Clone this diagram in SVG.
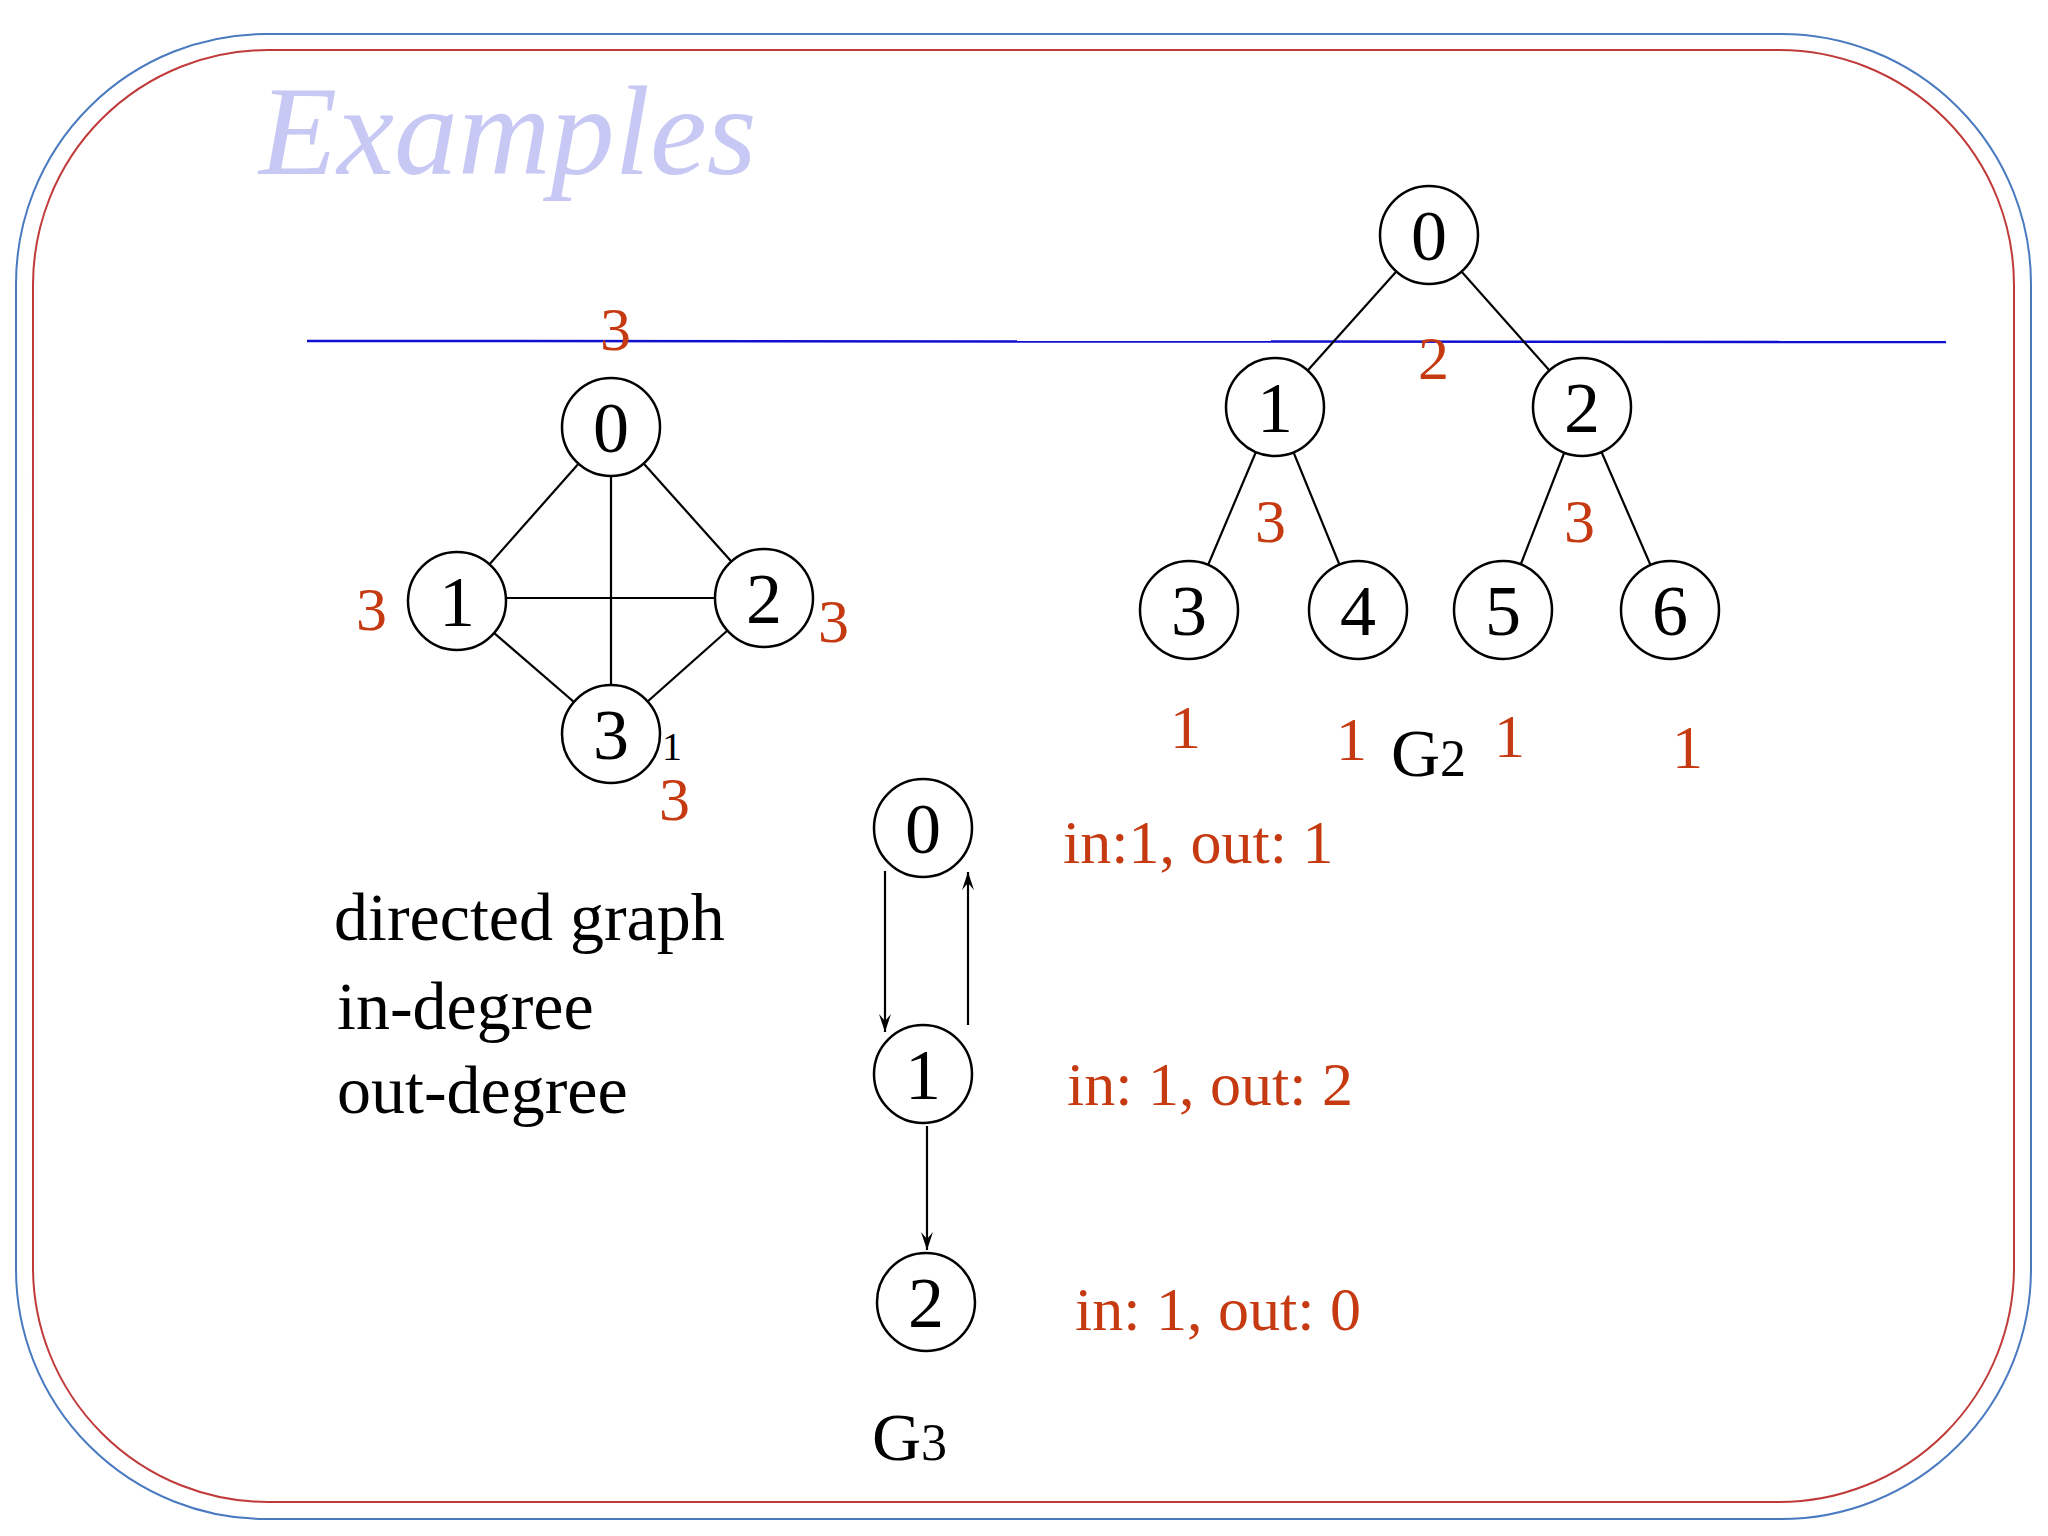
<svg xmlns="http://www.w3.org/2000/svg" width="2048" height="1536" viewBox="0 0 2048 1536">
<defs>
<marker id="ah" markerWidth="18" markerHeight="12" refX="18" refY="6" orient="auto" markerUnits="userSpaceOnUse" viewBox="0 0 18 12"><path d="M0,0 L18,6 L0,12 L7,6 Z" fill="#000"/></marker>
</defs>
<style>
.n{fill:#fff;stroke:#000;stroke-width:2.5}
.d{font-family:"Liberation Serif",serif;font-size:72px;text-anchor:middle;fill:#000}
.r{font-family:"Liberation Serif",serif;font-size:62px;fill:#c63a12}
.t{font-family:"Liberation Serif",serif;font-size:68px;fill:#000}
.e{stroke:#000;stroke-width:2.2;fill:none}
</style>
<rect width="2048" height="1536" fill="#fff"/>
<rect x="16" y="34" width="2015" height="1485" rx="250" fill="none" stroke="#4a7ac0" stroke-width="2"/>
<rect x="33" y="50" width="1981" height="1452" rx="235" fill="none" stroke="#c03a3a" stroke-width="2"/>
<text x="259" y="174" font-family="Liberation Serif,serif" font-style="italic" font-size="128" fill="#c8c8f5">Examples</text>
<line x1="307" y1="341" x2="1946" y2="342" stroke="#1010d0" stroke-width="2.5"/>
<g id="connectors">
<line class="e" x1="611" y1="427" x2="457" y2="601"/>
<line class="e" x1="611" y1="427" x2="764" y2="598"/>
<line class="e" x1="611" y1="427" x2="611" y2="734"/>
<line class="e" x1="457" y1="598" x2="764" y2="598"/>
<line class="e" x1="457" y1="601" x2="611" y2="734"/>
<line class="e" x1="764" y1="598" x2="611" y2="734"/>
<line class="e" x1="1429" y1="235" x2="1275" y2="407"/>
<line class="e" x1="1429" y1="235" x2="1582" y2="407"/>
<line class="e" x1="1275" y1="407" x2="1189" y2="610"/>
<line class="e" x1="1275" y1="407" x2="1358" y2="610"/>
<line class="e" x1="1582" y1="407" x2="1503" y2="610"/>
<line class="e" x1="1582" y1="407" x2="1670" y2="610"/>
<line class="e" x1="885" y1="871" x2="885" y2="1032" marker-end="url(#ah)"/>
<line class="e" x1="968" y1="1025" x2="968" y2="872" marker-end="url(#ah)"/>
<line class="e" x1="927" y1="1126" x2="927" y2="1250" marker-end="url(#ah)"/>
</g>
<g id="g1-0"><circle class="n" cx="611" cy="427" r="49"/><text class="d" x="611" y="452">0</text></g>
<g id="g1-1"><circle class="n" cx="457" cy="601" r="49"/><text class="d" x="457" y="626">1</text></g>
<g id="g1-2"><circle class="n" cx="764" cy="598" r="49"/><text class="d" x="764" y="623">2</text></g>
<g id="g1-3"><circle class="n" cx="611" cy="734" r="49"/><text class="d" x="611" y="759">3</text></g>
<g id="g2-0"><circle class="n" cx="1429" cy="235" r="49"/><text class="d" x="1429" y="260">0</text></g>
<g id="g2-1"><circle class="n" cx="1275" cy="407" r="49"/><text class="d" x="1275" y="432">1</text></g>
<g id="g2-2"><circle class="n" cx="1582" cy="407" r="49"/><text class="d" x="1582" y="432">2</text></g>
<g id="g2-3"><circle class="n" cx="1189" cy="610" r="49"/><text class="d" x="1189" y="635">3</text></g>
<g id="g2-4"><circle class="n" cx="1358" cy="610" r="49"/><text class="d" x="1358" y="635">4</text></g>
<g id="g2-5"><circle class="n" cx="1503" cy="610" r="49"/><text class="d" x="1503" y="635">5</text></g>
<g id="g2-6"><circle class="n" cx="1670" cy="610" r="49"/><text class="d" x="1670" y="635">6</text></g>
<g id="g3-0"><circle class="n" cx="923" cy="828" r="49"/><text class="d" x="923" y="853">0</text></g>
<g id="g3-1"><circle class="n" cx="923" cy="1074" r="49"/><text class="d" x="923" y="1099">1</text></g>
<g id="g3-2"><circle class="n" cx="926" cy="1302" r="49"/><text class="d" x="926" y="1327">2</text></g>
<g id="labels">
<text class="r" x="600" y="350">3</text>
<text class="r" x="356" y="630">3</text>
<text class="r" x="818" y="642">3</text>
<text class="r" x="659" y="820">3</text>
<text x="662" y="760" font-family="Liberation Serif,serif" font-size="40" fill="#000">1</text>
<text class="r" x="1418" y="379">2</text>
<text class="r" x="1255" y="542">3</text>
<text class="r" x="1564" y="542">3</text>
<text class="r" x="1170" y="748">1</text>
<text class="r" x="1336" y="760">1</text>
<text class="r" x="1494" y="757">1</text>
<text class="r" x="1672" y="768">1</text>
<text class="t" x="1391" y="776" font-size="80">G<tspan font-size="52">2</tspan></text>
<text class="t" x="872" y="1460" font-size="80">G<tspan font-size="52">3</tspan></text>
<text class="r" x="1063" y="863" font-size="76">in:1, out: 1</text>
<text class="r" x="1067" y="1105" font-size="76">in: 1, out: 2</text>
<text class="r" x="1075" y="1330" font-size="76">in: 1, out: 0</text>
<text class="t" x="334" y="940">directed graph</text>
<text class="t" x="337" y="1029">in-degree</text>
<text class="t" x="337" y="1113">out-degree</text>
</g>
</svg>
